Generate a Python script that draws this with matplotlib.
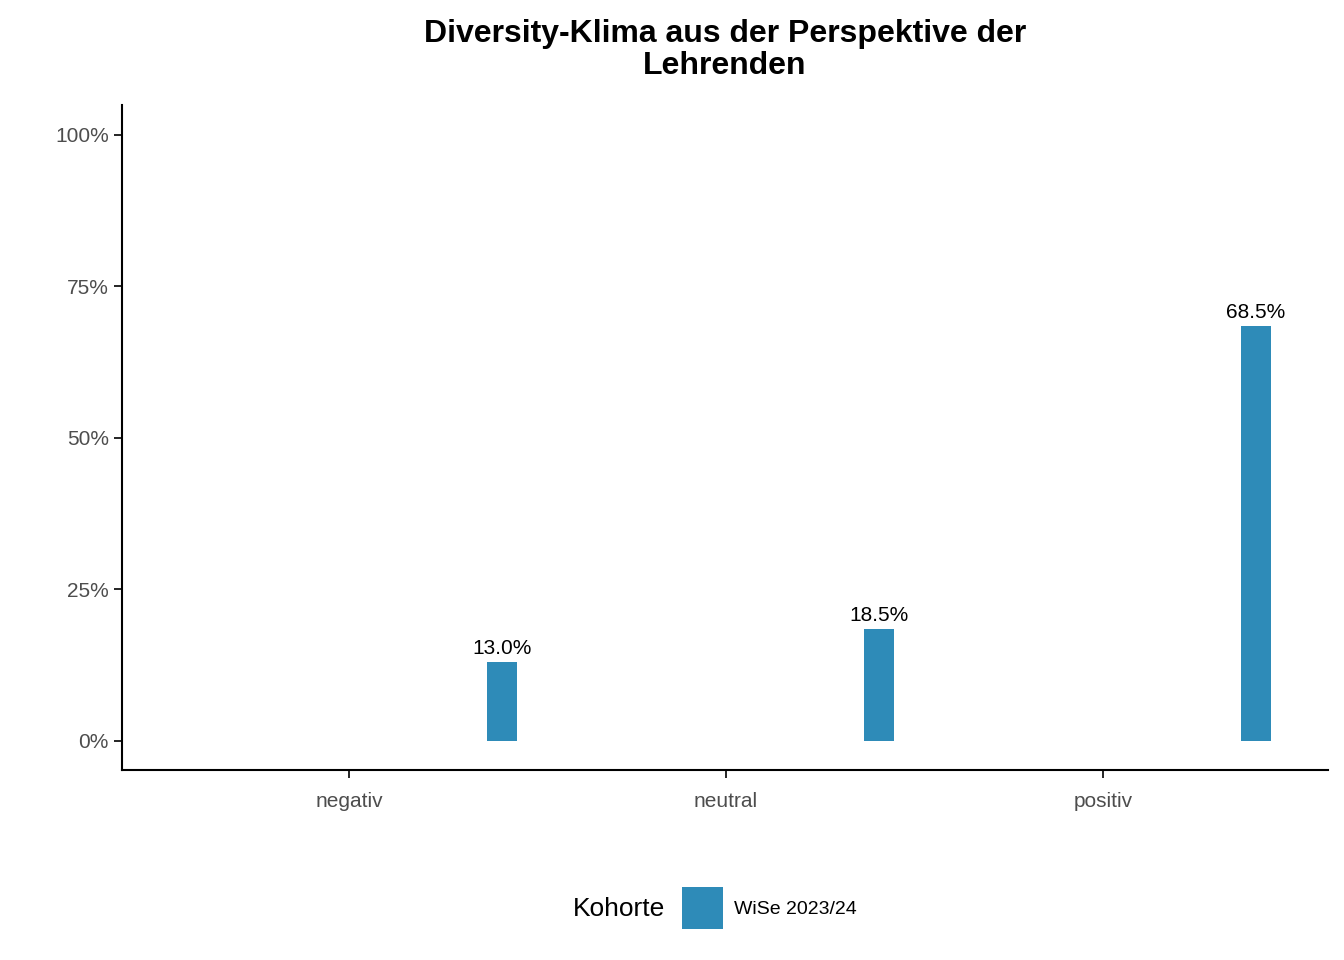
import matplotlib
matplotlib.use("Agg")
import matplotlib.pyplot as plt
import numpy as np

plt.rcParams["font.family"] = "Liberation Sans"

categories = ["negativ", "neutral", "positiv"]
values = [13.0, 18.5, 68.5]
labels = ["13.0%", "18.5%", "68.5%"]
cohort = "WiSe 2023/24"
yticks = [0, 25, 50, 75, 100]
ytick_labels = ["0%", "25%", "50%", "75%", "100%"]

fig = plt.figure(figsize=(13.44, 9.6), dpi=100)
ax = fig.add_axes([122/1344, 1-770/960, (1328-122)/1344, (770-105)/960])
x = np.arange(1, len(categories)+1)
color = "#2E8BB8"
bars = ax.bar(x + 0.406, values, width=0.08, color=color, label=cohort)
for xi, v, l in zip(x, values, labels):
    ax.text(xi + 0.406, v + 0.6, l, ha="center", va="bottom", fontsize=15)
ax.set_xlim(0.398, 3.597)
ax.set_ylim(-4.8, 104.9)
ax.set_xticks(x)
ax.set_xticklabels(categories, fontsize=15, color="#4D4D4D")
ax.set_yticks(yticks)
ax.set_yticklabels(ytick_labels, fontsize=15, color="#4D4D4D")
for s in ["top", "right"]:
    ax.spines[s].set_visible(False)
for s in ["left", "bottom"]:
    ax.spines[s].set_linewidth(1.5)
ax.tick_params(length=6, width=1.2)
ax.tick_params(axis="x", pad=10)
fig.text((122+1328)/2/1344, 1-50/960, "Diversity-Klima aus der Perspektive der\nLehrenden",
         fontsize=23, fontweight="bold", ha="center", va="center", linespacing=1.05)
fig.text(665/1344, 1-909/960, "Kohorte", fontsize=19, ha="right", va="center")
fig.legend(handles=[bars], labels=[cohort], loc="center left",
           bbox_to_anchor=(672/1344, 1-908/960), frameon=False, fontsize=14,
           handlelength=2.1, handleheight=2.9, handletextpad=0.6, borderpad=0)
fig.savefig("out.png", dpi=100)
